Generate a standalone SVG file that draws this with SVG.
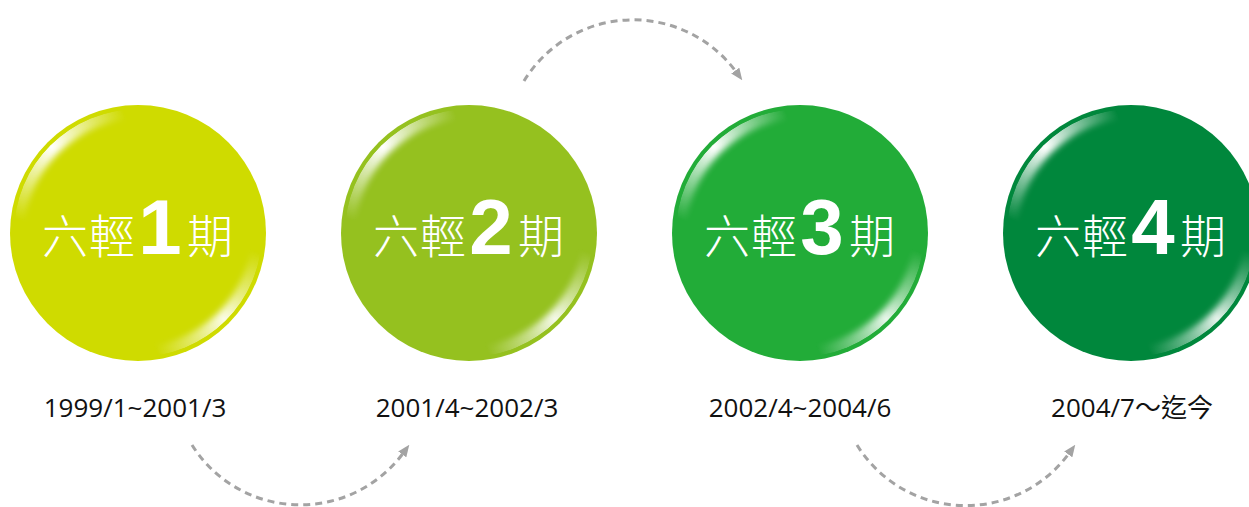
<svg xmlns="http://www.w3.org/2000/svg" width="1249" height="507" viewBox="0 0 1249 507">
<style>
.cjk{font-family:"Noto Sans CJK TC","Noto Sans CJK SC",sans-serif;font-weight:300;font-size:46px;fill:#ffffff}
.num{font-family:"Liberation Sans",Arial,sans-serif;font-weight:bold;font-size:78px;fill:#ffffff;text-anchor:middle}
.date{font-family:"Open Sans","Noto Sans CJK TC",sans-serif;font-size:26px;fill:#111111;text-anchor:middle}
.conn{fill:none;stroke:#a3a3a3;stroke-width:3;stroke-dasharray:7 5;marker-end:url(#arrow)}
</style>
<defs>
<marker id="arrow" markerUnits="userSpaceOnUse" viewBox="0 0 12 10" markerWidth="12" markerHeight="10" refX="3" refY="5" orient="auto">
<path d="M0,0 L12,5 L0,10 z" fill="#a3a3a3"/>
</marker>
<filter id="soft" x="-20%" y="-20%" width="140%" height="140%">
<feGaussianBlur stdDeviation="3"/>
</filter>
<radialGradient id="hl" gradientUnits="userSpaceOnUse" cx="-86" cy="-86" r="80">
<stop offset="0" stop-color="#ffffff" stop-opacity="1"/>
<stop offset="0.4" stop-color="#ffffff" stop-opacity="0.6"/>
<stop offset="1" stop-color="#ffffff" stop-opacity="0"/>
</radialGradient>
<radialGradient id="hl2" gradientUnits="userSpaceOnUse" cx="86" cy="86" r="75">
<stop offset="0" stop-color="#ffffff" stop-opacity="0.9"/>
<stop offset="0.4" stop-color="#ffffff" stop-opacity="0.5"/>
<stop offset="1" stop-color="#ffffff" stop-opacity="0"/>
</radialGradient>
<mask id="mTL" maskUnits="userSpaceOnUse" x="-130" y="-130" width="260" height="260">
<circle r="124" fill="#fff"/>
<circle cx="8" cy="8" r="124" fill="#000" filter="url(#soft)"/>
</mask>
<mask id="mBR" maskUnits="userSpaceOnUse" x="-130" y="-130" width="260" height="260">
<circle r="124" fill="#fff"/>
<circle cx="-8" cy="-8" r="124" fill="#000" filter="url(#soft)"/>
</mask>
<g id="shine">
<circle r="124" fill="url(#hl)" mask="url(#mTL)"/>
<circle r="124" fill="url(#hl2)" mask="url(#mBR)"/>
</g>
</defs>

<g id="connectors">
<path class="conn" d="M524,81 A128,128 0 0 1 737,73"/>
<path class="conn" d="M192,445 A128,128 0 0 0 404,452"/>
<path class="conn" d="M857,445 A128,128 0 0 0 1070,452"/>
</g>

<g id="node1">
<circle cx="138" cy="233" r="128" fill="#cfdb00"/>
<use href="#shine" transform="translate(138,233)"/>
<text class="cjk" x="42" y="253">六</text>
<text class="cjk" x="89" y="253">輕</text>
<text class="num" x="160" y="254">1</text>
<text class="cjk" x="187" y="253">期</text>
<text class="date" x="135" y="417">1999/1~2001/3</text>
</g>

<g id="node2">
<circle cx="469" cy="233" r="128" fill="#95c11f"/>
<use href="#shine" transform="translate(469,233)"/>
<text class="cjk" x="373" y="253">六</text>
<text class="cjk" x="420" y="253">輕</text>
<text class="num" x="491" y="254">2</text>
<text class="cjk" x="518" y="253">期</text>
<text class="date" x="467" y="417">2001/4~2002/3</text>
</g>

<g id="node3">
<circle cx="800" cy="233" r="128" fill="#22ac38"/>
<use href="#shine" transform="translate(800,233)"/>
<text class="cjk" x="704" y="253">六</text>
<text class="cjk" x="751" y="253">輕</text>
<text class="num" x="822" y="254">3</text>
<text class="cjk" x="849" y="253">期</text>
<text class="date" x="800" y="417">2002/4~2004/6</text>
</g>

<g id="node4">
<circle cx="1131" cy="233" r="128" fill="#00873c"/>
<use href="#shine" transform="translate(1131,233)"/>
<text class="cjk" x="1035" y="253">六</text>
<text class="cjk" x="1082" y="253">輕</text>
<text class="num" x="1153" y="254">4</text>
<text class="cjk" x="1180" y="253">期</text>
<text class="date" x="1132" y="417">2004/7～迄今</text>
</g>
</svg>
